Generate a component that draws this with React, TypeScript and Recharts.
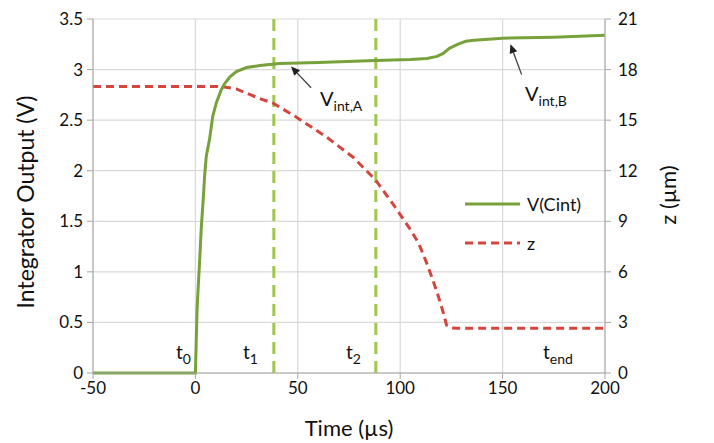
import React from "react";
import {
  LineChart,
  Line,
  XAxis,
  YAxis,
  CartesianGrid,
  ReferenceLine,
} from "recharts";

// V(Cint) series (time in µs, integrator output in V)
const vTime = [
  -50, 0, 0.4, 0.8, 1.5, 2.1, 2.9, 3.7, 4.5, 5.3, 6.9, 8.5, 10.2, 12.6, 14.2, 17,
  20, 25, 31.5, 41, 60, 88, 105, 113, 118, 121, 124, 128, 132, 136, 150, 175, 200,
];
const vValues = [
  0, 0, 0.3, 0.62, 0.9, 1.12, 1.45, 1.68, 1.95, 2.14, 2.31, 2.54, 2.67, 2.8, 2.86,
  2.93, 2.98, 3.02, 3.04, 3.06, 3.07, 3.09, 3.1, 3.11, 3.13, 3.16, 3.21, 3.25,
  3.28, 3.29, 3.31, 3.32, 3.34,
];

// z series (time in µs, z in µm)
const zTime = [
  -50, 10, 15, 20, 25, 31, 38, 49, 64, 77, 88, 96, 100, 105, 109, 113, 116, 118.5,
  121, 122.6, 125, 128, 200,
];
const zValues = [
  17, 17, 16.95, 16.85, 16.6, 16.3, 16.0, 15.2, 14.0, 12.8, 11.45, 10.1, 9.4, 8.5,
  7.7, 6.5, 5.5, 4.6, 3.6, 2.85, 2.68, 2.65, 2.65,
];

const xTicks = [-50, 0, 50, 100, 150, 200];
const leftTicks = [0, 0.5, 1, 1.5, 2, 2.5, 3, 3.5];
const rightTicks = [0, 3, 6, 9, 12, 15, 18, 21];
const markerTimes = [38.3, 88.1];

// annotation arrows: [tailT, tailV, headT, headV]
const arrowA = [56.5, 2.82, 46.7, 3.03];
const arrowB = [159.3, 2.95, 153.8, 3.25];

const vData = vTime.map((t, i) => ({ t, v: vValues[i] }));
const zData = zTime.map((t, i) => ({ t, z: zValues[i] }));

const FONT = "Lato, 'Open Sans', sans-serif";
const GREEN = "#77A23B";
const LIGHTGREEN = "#9DC84B";
const RED = "#D4463D";
const AXIS = "#A6A6A6";
const GRID = "#D9D9D9";

const ArrowShape = (props: any) => {
  const { x1, y1, x2, y2 } = props;
  if ([x1, y1, x2, y2].some((v) => v === undefined || isNaN(v))) return null;
  const ang = Math.atan2(y2 - y1, x2 - x1);
  const L = 9;
  const W = 4;
  const bx = x2 - L * Math.cos(ang);
  const by = y2 - L * Math.sin(ang);
  const px = -Math.sin(ang) * W;
  const py = Math.cos(ang) * W;
  return (
    <g>
      <line x1={x1} y1={y1} x2={bx} y2={by} stroke="#404040" strokeWidth={1.3} />
      <polygon
        points={`${x2},${y2} ${bx + px},${by + py} ${bx - px},${by - py}`}
        fill="#202020"
      />
    </g>
  );
};

const Sub = ({ x, y, main, sub, size = 20, subSize = 14 }: any) => (
  <text x={x} y={y} fontFamily={FONT} fontSize={size} fill="#111">
    {main}
    <tspan fontSize={subSize} dy={5}>
      {sub}
    </tspan>
  </text>
);

export default function App() {
  return (
    <div style={{ position: "absolute", left: 0, top: 0, width: 714, height: 443, background: "#fff" }}>
      <LineChart
        width={714}
        height={443}
        margin={{ top: 19, right: 0, left: 0, bottom: 0 }}
        style={{ fontFamily: FONT }}
      >
        <CartesianGrid stroke={GRID} strokeWidth={1.2} yAxisId="left" />
        <XAxis
          dataKey="t"
          type="number"
          domain={[-50, 200]}
          ticks={xTicks}
          allowDataOverflow
          height={70}
          stroke={AXIS}
          tickSize={6}
          tickMargin={3}
          tick={{ fill: "#111", fontSize: 17, fontFamily: FONT }}
        />
        <YAxis
          yAxisId="left"
          domain={[0, 3.5]}
          ticks={leftTicks}
          width={93}
          stroke={AXIS}
          tickSize={6}
          tickMargin={4}
          tick={{ fill: "#111", fontSize: 17, fontFamily: FONT }}
        />
        <YAxis
          yAxisId="right"
          orientation="right"
          domain={[0, 21]}
          ticks={rightTicks}
          width={109}
          stroke={AXIS}
          tickSize={6}
          tickMargin={7}
          tick={{ fill: "#111", fontSize: 17, fontFamily: FONT, textAnchor: "start" }}
        />
        {markerTimes.map((t) => (
          <ReferenceLine
            key={t}
            yAxisId="left"
            x={t}
            stroke={LIGHTGREEN}
            strokeWidth={3}
            strokeDasharray="12 7"
          />
        ))}
        <Line
          yAxisId="right"
          data={zData}
          dataKey="z"
          type="linear"
          stroke={RED}
          strokeWidth={3}
          strokeDasharray="8 5"
          dot={false}
          isAnimationActive={false}
        />
        <Line
          yAxisId="left"
          data={vData}
          dataKey="v"
          type="linear"
          stroke={GREEN}
          strokeWidth={3}
          dot={false}
          isAnimationActive={false}
        />
        {[arrowA, arrowB].map((a, i) => (
          <ReferenceLine
            key={"arr" + i}
            yAxisId="left"
            segment={[
              { x: a[0], y: a[1] },
              { x: a[2], y: a[3] },
            ]}
            stroke="#404040"
            shape={ArrowShape}
          />
        ))}
      </LineChart>
      <svg
        width={714}
        height={443}
        style={{ position: "absolute", left: 0, top: 0, pointerEvents: "none" }}
      >
        {/* axis titles */}
        <text
          x={25}
          y={202}
          transform="rotate(-90 25 202)"
          textAnchor="middle"
          dominantBaseline="central"
          fontFamily={FONT}
          fontSize={23}
          fill="#111"
        >
          Integrator Output (V)
        </text>
        <text
          x={667}
          y={195}
          transform="rotate(-90 667 195)"
          textAnchor="middle"
          dominantBaseline="central"
          fontFamily={FONT}
          fontSize={22}
          fill="#111"
        >
          z (µm)
        </text>
        <text
          x={349}
          y={436}
          textAnchor="middle"
          fontFamily={FONT}
          fontSize={22}
          fill="#111"
        >
          Time (µs)
        </text>
        {/* annotations */}
        <Sub x={320} y={106} main="V" sub="int,A" />
        <Sub x={525} y={101} main="V" sub="int,B" />
        <Sub x={176} y={359} main="t" sub="0" size={19} subSize={14} />
        <Sub x={243} y={359} main="t" sub="1" size={19} subSize={14} />
        <Sub x={346} y={359} main="t" sub="2" size={19} subSize={14} />
        <Sub x={543} y={359} main="t" sub="end" size={19} subSize={14} />
        {/* legend */}
        <line x1={465} y1={204} x2={520} y2={204} stroke={GREEN} strokeWidth={3} />
        <text x={527} y={204} dominantBaseline="central" fontFamily={FONT} fontSize={18} fill="#111">
          V(Cint)
        </text>
        <line
          x1={465}
          y1={243}
          x2={520}
          y2={243}
          stroke={RED}
          strokeWidth={3}
          strokeDasharray="8 5"
        />
        <text x={527} y={243} dominantBaseline="central" fontFamily={FONT} fontSize={18} fill="#111">
          z
        </text>
      </svg>
    </div>
  );
}
